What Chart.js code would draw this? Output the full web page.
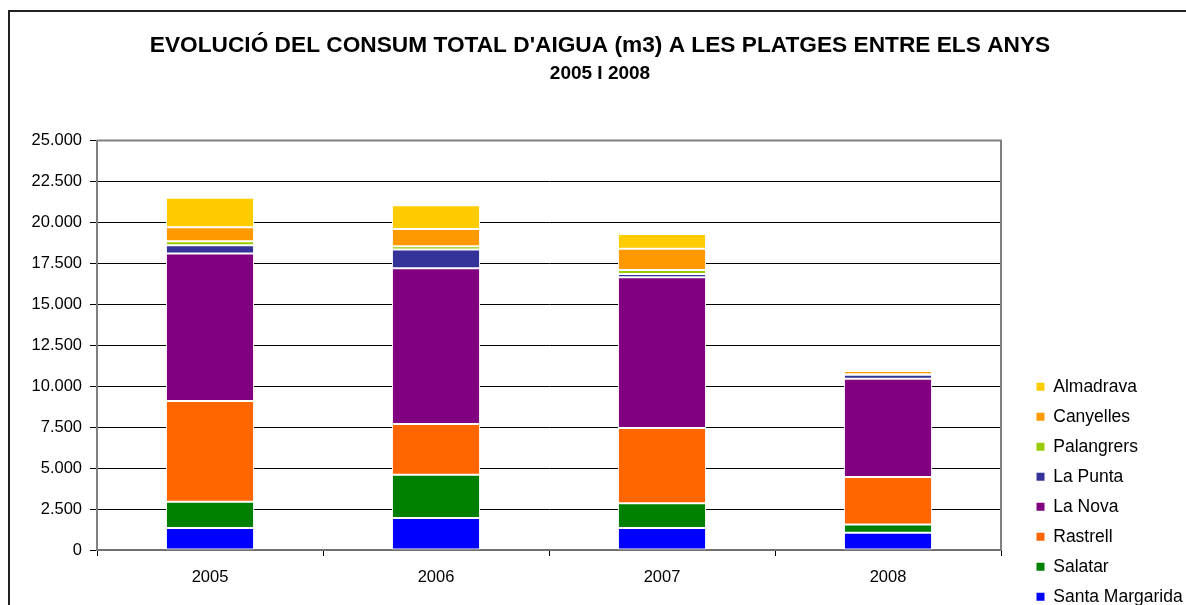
<!DOCTYPE html>
<html>
<head>
<meta charset="utf-8">
<script src="https://cdn.jsdelivr.net/npm/chart.js@4"></script>
<style>
  html, body { margin: 0; padding: 0; background: #fff; overflow: hidden; }
  #wrap { position: relative; width: 1186px; height: 605px; overflow: hidden; }
  #frame { position: absolute; left: 8px; top: 10px; width: 2000px; height: 2000px; border: 2px solid #222; box-sizing: border-box; }
  #holder { position: absolute; left: 0; top: 0; width: 1186px; height: 605px; }
</style>
</head>
<body>
<div id="wrap">
  <div id="frame"></div>
  <div id="holder"><canvas id="c"></canvas></div>
</div>
<script>
const titleLine1 = "EVOLUCIÓ DEL CONSUM TOTAL D'AIGUA (m3) A LES PLATGES ENTRE ELS ANYS";
const titleLine2 = "2005 I 2008";
const years = ["2005", "2006", "2007", "2008"];
const seriesNames = ["Santa Margarida", "Salatar", "Rastrell", "La Nova", "La Punta", "Palangrers", "Canyelles", "Almadrava"];
const seriesColors = ["#0000FF", "#008000", "#FF6600", "#800080", "#333399", "#99CC00", "#FF9900", "#FFCC00"];
const santaMargarida = [1350, 1950, 1350, 1050];
const salatar = [1600, 2650, 1500, 500];
const rastrell = [6150, 3100, 4600, 2900];
const laNova = [9000, 9500, 9200, 6000];
const laPunta = [500, 1150, 200, 250];
const palangrers = [250, 200, 250, 30];
const canyelles = [850, 1050, 1300, 200];
const almadrava = [1800, 1450, 900, 50];
const seriesValues = [santaMargarida, salatar, rastrell, laNova, laPunta, palangrers, canyelles, almadrava];
const yMin = 0, yMax = 25000, yStep = 2500;

function fmt(v) {
  return String(Math.round(v)).replace(/\B(?=(\d{3})+(?!\d))/g, ".");
}

const FONT = "'Liberation Sans', Arial, sans-serif";

const datasets = seriesNames.map((n, i) => ({
  label: n,
  data: seriesValues[i],
  backgroundColor: seriesColors[i],
  borderColor: "#ffffff",
  borderWidth: 1,
  borderSkipped: false,
  barPercentage: 0.39,
  categoryPercentage: 1.0
}));

const framePlugin = {
  id: "framePlugin",
  beforeLayout(chart) {
    const lg = chart.legend;
    if (lg && !lg._patched) {
      const f = lg.fit;
      lg.fit = function () { f.call(this); this.width = 185; };
      lg._patched = true;
    }
  },
  afterLayout(chart) {
    const lg = chart.legend;
    if (lg) {
      lg.left += 23; lg.right += 23;
      lg.top += 13; lg.bottom += 13;
    }
  },
  afterDatasetsDraw(chart) {
    const a = chart.chartArea, ctx = chart.ctx;
    ctx.save();
    ctx.strokeStyle = "#808080";
    ctx.lineWidth = 2;
    ctx.beginPath();
    ctx.moveTo(a.left, a.top);
    ctx.lineTo(a.right, a.top);
    ctx.lineTo(a.right, a.bottom);
    ctx.stroke();
    ctx.restore();
  }
};

new Chart(document.getElementById("c"), {
  type: "bar",
  data: { labels: years, datasets },
  options: {
    responsive: true,
    maintainAspectRatio: false,
    animation: false,
    layout: { padding: { left: 14, right: 0, top: 0, bottom: 0 } },
    plugins: {
      title: {
        display: true,
        text: titleLine1,
        color: "#000",
        font: { family: FONT, size: 22.7, weight: "bold", lineHeight: 1.2 },
        padding: { top: 32, bottom: 0 }
      },
      subtitle: {
        display: true,
        text: titleLine2,
        color: "#000",
        font: { family: FONT, size: 19, weight: "bold", lineHeight: 1.2 },
        padding: { top: 3, bottom: 55.5 }
      },
      legend: {
        display: true,
        position: "right",
        align: "end",
        reverse: true,
        labels: {
          color: "#000",
          font: { family: FONT, size: 17.5 },
          boxWidth: 8,
          boxHeight: 8,
          padding: 12.5,
          generateLabels(chart) {
            const items = Chart.defaults.plugins.legend.labels.generateLabels(chart);
            items.forEach(it => { it.lineWidth = 0; it.strokeStyle = it.fillStyle; });
            return items;
          }
        }
      },
      tooltip: { enabled: false }
    },
    scales: {
      x: {
        stacked: true,
        afterFit(s) { s.height = 55; },
        grid: { drawOnChartArea: false, drawTicks: true, tickLength: 6, color: "#000", offset: true },
        border: { color: "#707070", width: 2 },
        ticks: { color: "#000", font: { family: FONT, size: 16.5 }, padding: 12, maxRotation: 0 }
      },
      y: {
        stacked: true,
        min: yMin,
        max: yMax,
        afterFit(s) { s.width = 83; },
        grid: { color: "#000", lineWidth: 1, drawTicks: true, tickLength: 7, tickColor: "#000" },
        border: { color: "#808080", width: 2 },
        ticks: { stepSize: yStep, color: "#000", font: { family: FONT, size: 16.5 }, padding: 8, callback: v => fmt(v) }
      }
    }
  },
  plugins: [framePlugin]
});
</script>
</body>
</html>
